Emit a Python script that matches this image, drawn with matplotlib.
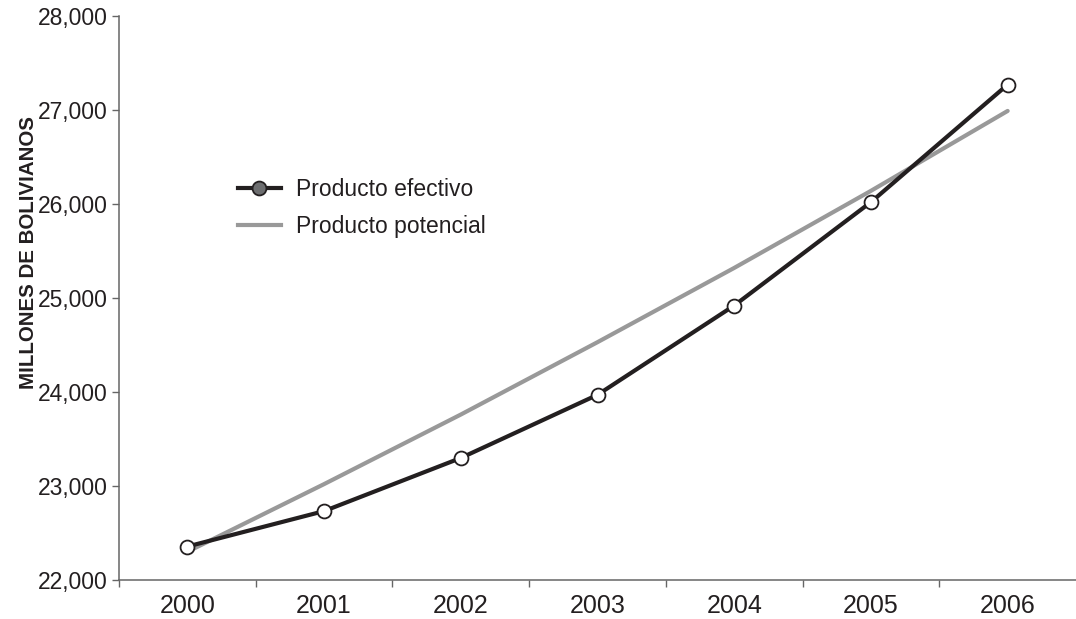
import matplotlib
matplotlib.use('Agg')
import matplotlib.pyplot as plt
from matplotlib.lines import Line2D
from matplotlib.ticker import FuncFormatter

# datos (millones de bolivianos)
years = ['2000', '2001', '2002', '2003', '2004', '2005', '2006']
efectivo = [22356, 22733, 23298, 23970, 24920, 26020, 27270]
potencial = [22300, 23020, 23760, 24530, 25320, 26140, 26990]
yticks = [22000, 23000, 24000, 25000, 26000, 27000, 28000]

txt_col = '#231f20'
plt.rcParams['font.family'] = ['Liberation Sans', 'DejaVu Sans']

fig = plt.figure(figsize=(10.76, 6.19), dpi=100)
ax = fig.add_axes([119 / 1076, 1 - 580 / 619, 957 / 1076, 564 / 619])

x = list(range(len(years)))
ax.plot(x, potencial, color='#999999', lw=3.0, solid_capstyle='round', zorder=2)
ax.plot(x, efectivo, color=txt_col, lw=3.0, marker='o', ms=10,
        mfc='white', mec=txt_col, mew=1.3, zorder=3)

ax.set_xlim(-0.5, 6.5)
ax.set_ylim(22000, 28000)
ax.set_yticks(yticks)
ax.yaxis.set_major_formatter(FuncFormatter(lambda v, p: f'{int(v):,}'))
ax.set_xticks(x)
ax.set_xticklabels(years)
ax.set_xticks([i - 0.5 for i in range(len(years))], minor=True)

for s in ['top', 'right']:
    ax.spines[s].set_visible(False)
for s in ['left', 'bottom']:
    ax.spines[s].set_color('#666666')
    ax.spines[s].set_linewidth(1.1)

ax.tick_params(axis='y', direction='out', length=5, width=1, color='#666666',
               labelsize=16.5, labelcolor=txt_col, pad=3)
ax.tick_params(axis='x', which='major', length=0, labelsize=18,
               labelcolor=txt_col, pad=10)
ax.tick_params(axis='x', which='minor', direction='out', length=5, width=1,
               color='#666666')

fig.text(29 / 1076, 1 - 253 / 619, 'MILLONES DE BOLIVIANOS', rotation=90,
         fontsize=14.8, fontweight='bold', color=txt_col, ha='center', va='center')

handles = [
    Line2D([], [], color=txt_col, lw=3.0, marker='o', ms=10, mfc='#6d6e70',
           mec=txt_col, mew=1.3),
    Line2D([], [], color='#999999', lw=3.0),
]
leg = ax.legend(handles, ['Producto efectivo', 'Producto potencial'],
                loc='upper left', bbox_to_anchor=((238 - 119) / 957, (580 - 178) / 564),
                frameon=False, fontsize=16.5, handlelength=1.86, handletextpad=0.66,
                labelspacing=0.6, borderpad=0, borderaxespad=0)
for t in leg.get_texts():
    t.set_color(txt_col)

fig.savefig('out.png', dpi=100)
